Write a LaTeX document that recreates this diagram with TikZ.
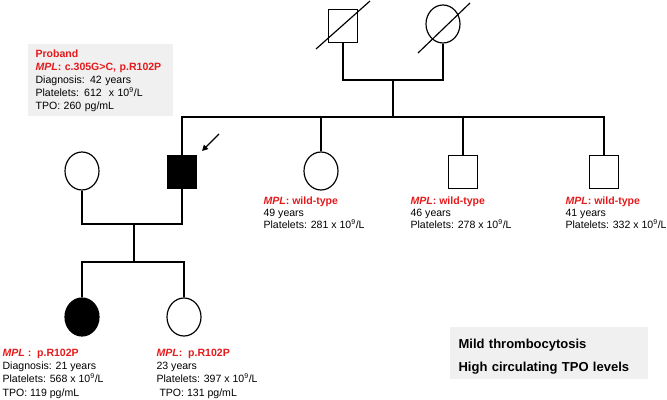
\documentclass[tikz,border=0pt]{standalone}
\usepackage{fontspec}
\setmainfont{Liberation Sans}
\usetikzlibrary{shapes.geometric,arrows.meta}
\definecolor{mplred}{RGB}{228,26,28}
\definecolor{boxgray}{RGB}{240,240,240}
\newcommand\mpl[1]{\textcolor{mplred}{\bfseries\textit{MPL}#1}}

\begin{document}
\begin{tikzpicture}[x=0.03cm,y=-0.03cm,
        line width=1pt,
        male/.style={draw,rectangle,minimum width=0.88cm,minimum height=0.98cm,inner sep=0},
        female/.style={draw,ellipse,minimum width=1.02cm,minimum height=1.14cm,inner sep=0},
        affected/.style={fill=black},
        info/.style={anchor=base west,align=left,inner sep=0,font=\fontsize{9}{11.1}\selectfont},
        infobox/.style={anchor=north west,fill=boxgray,align=left,inner ysep=0,
            font=\fontsize{9}{11.1}\selectfont}]
    \useasboundingbox (0,0) rectangle (667,400);
    % grandparents
    \node[male] (gf) at (343,26) {};
    \node[female] (gm) at (443,24) {};
    \draw ([shift={(-27,23)}]gf.center) -- ([shift={(27,-25)}]gf.center);
    \draw ([shift={(-25,29)}]gm.center) -- ([shift={(27,-21)}]gm.center);
    \coordinate (gpmid) at (393,80);
    \coordinate (sibmid) at (393,117);
    \draw (gf.south) |- (gpmid) -| (gm.south);
    \draw (gpmid) -- (sibmid);
    % siblings
    \node[male,affected] (proband) at (182,172) {};
    \node[female] (sister) at (321,171) {};
    \node[male] (brotherA) at (463,172) {};
    \node[male] (brotherB) at (604,172) {};
    \draw (proband.north) |- (sibmid) -| (brotherB.north);
    \draw (sister.north) -- (sister.north |- sibmid);
    \draw (brotherA.north) -- (brotherA.north |- sibmid);
    \coordinate (arrtail) at (219,134);
    \coordinate (arrhead) at (202,151);
    \draw[-{Triangle[length=5pt,width=5pt]}] (arrtail) -- (arrhead);
    % spouse and children
    \node[female] (wife) at (82,171) {};
    \coordinate (marmid) at (134,224);
    \coordinate (kidmid) at (134,262);
    \draw (wife.south) |- (marmid) -| (proband.south);
    \draw (marmid) -- (kidmid);
    \node[female,affected] (daughterA) at (82,317) {};
    \node[female] (daughterB) at (184,317) {};
    \draw (daughterA.north) |- (kidmid) -| (daughterB.north);
    % labels
    \node[infobox,text width=3.87cm,inner xsep=0.24cm,text height=0.42cm,text depth=1.74cm] (probandinfo) at (27,43)
        {\textcolor{mplred}{\bfseries Proband}\\\mpl{: c.305G>C, p.R102P}\\Diagnosis: 42 years\\
         Platelets: 612 \ x 10\textsuperscript{9}/L\\TPO: 260 pg/mL};
    \node[info,font=\fontsize{9}{10.25}\selectfont] (sisterinfo) at (263,229)
        {\mpl{: wild-type}\\49 years\\Platelets: 281 x 10\textsuperscript{9}/L};
    \node[info,font=\fontsize{9}{10.25}\selectfont] (brotherAinfo) at (410,229)
        {\mpl{: wild-type}\\46 years\\Platelets: 278 x 10\textsuperscript{9}/L};
    \node[info,font=\fontsize{9}{10.25}\selectfont] (brotherBinfo) at (565,229)
        {\mpl{: wild-type}\\41 years\\Platelets: 332 x 10\textsuperscript{9}/L};
    \node[info] (daughterAinfo) at (2,396) {\mpl{\ :\ \ p.R102P}\\Diagnosis: 21 years\\
        Platelets: 568 x 10\textsuperscript{9}/L\\TPO: 119 pg/mL};
    \node[info] (daughterBinfo) at (156,396) {\mpl{:\ \ p.R102P}\\23 years\\
        Platelets: 397 x 10\textsuperscript{9}/L\\\ TPO: 131 pg/mL};
    \node[infobox,text width=5.4cm,inner xsep=0.27cm,text height=0.65cm,text depth=0.91cm,
        font=\fontsize{11.1}{19.6}\selectfont\bfseries] (legend) at (449,326)
        {Mild thrombocytosis\\High circulating TPO levels};
\end{tikzpicture}
\end{document}
